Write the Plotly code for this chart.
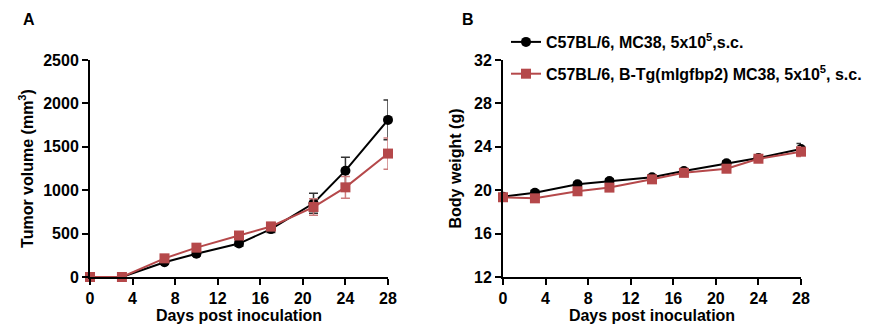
import plotly.graph_objects as go

days = [0, 3, 7, 10, 14, 17, 21, 24, 28]

# Tumor volume (mm^3)
vol_wt = [0, 0, 170, 268, 385, 552, 849, 1225, 1810]
vol_wt_err = [0, 0, 20, 25, 30, 40, 115, 155, 228]
vol_tg = [0, 0, 215, 338, 478, 582, 806, 1033, 1422]
vol_tg_err = [0, 0, 25, 30, 40, 45, 95, 125, 180]

# Body weight (g)
bw_wt = [19.40, 19.77, 20.54, 20.85, 21.20, 21.77, 22.48, 22.97, 23.80]
bw_wt_err = [0.2, 0.2, 0.2, 0.2, 0.2, 0.2, 0.2, 0.2, 0.5]
bw_tg = [19.35, 19.25, 19.90, 20.24, 21.00, 21.60, 21.98, 22.90, 23.55]
bw_tg_err = [0.2, 0.2, 0.25, 0.25, 0.25, 0.25, 0.25, 0.25, 0.45]

label_wt = "C57BL/6, MC38, 5x10<sup>5</sup>,s.c."
label_tg = "C57BL/6, B-Tg(mIgfbp2) MC38, 5x10<sup>5</sup>, s.c."

BLACK = "#000000"
BLACK_ERR = "#333333"
RED = "#b5484a"
RED_ERR = "#cc7c7d"
FONT = "Liberation Sans, Arial, sans-serif"

fig = go.Figure()


def add_series(x, y, err, color, err_color, symbol, name, group, xa, ya, show):
    fig.add_trace(go.Scatter(
        x=x, y=y, mode="lines+markers", name=name, showlegend=show, legendgroup=group,
        xaxis=xa, yaxis=ya, cliponaxis=False,
        line=dict(color=color, width=2),
        marker=dict(color=color, symbol=symbol, size=10, line=dict(width=0)),
        error_y=dict(type="data", array=err, color=err_color, thickness=1.5, width=4.5),
    ))


add_series(days, vol_wt, vol_wt_err, BLACK, BLACK_ERR, "circle", label_wt, "wt", "x", "y", False)
add_series(days, vol_tg, vol_tg_err, RED, RED_ERR, "square", label_tg, "tg", "x", "y", False)
add_series(days, bw_wt, bw_wt_err, BLACK, BLACK_ERR, "circle", label_wt, "wt", "x2", "y2", True)
add_series(days, bw_tg, bw_tg_err, RED, RED_ERR, "square", label_tg, "tg", "x2", "y2", True)

W, H = 883, 336
ydom = [1 - 277 / H, 1 - 60 / H]

axis_common = dict(
    showgrid=False, zeroline=False, showline=True, linecolor="black", linewidth=2,
    ticks="outside", ticklen=6, tickwidth=2, tickcolor="black", automargin=False,
    tickfont=dict(family=FONT, size=16, color="black", weight="bold"),
    title_font=dict(family=FONT, size=16, color="black", weight="bold"),
)

fig.update_layout(
    width=W, height=H, margin=dict(l=0, r=0, t=0, b=0, autoexpand=False),
    plot_bgcolor="white", paper_bgcolor="white",
    font=dict(family=FONT, color="black"),
    xaxis=dict(domain=[90 / W, 388 / W], range=[0, 28], tickvals=list(range(0, 29, 4)),
               title=dict(text="Days post inoculation", standoff=3), anchor="y", **axis_common),
    yaxis=dict(domain=ydom, range=[0, 2500], tickvals=list(range(0, 2501, 500)),
               title=dict(text="Tumor volume (mm<sup>3</sup>)", standoff=6), anchor="x", **axis_common),
    xaxis2=dict(domain=[503 / W, 801 / W], range=[0, 28], tickvals=list(range(0, 29, 4)),
                title=dict(text="Days post inoculation", standoff=3), anchor="y2", **axis_common),
    yaxis2=dict(domain=ydom, range=[12, 32], tickvals=list(range(12, 33, 4)),
                title=dict(text="Body weight (g)", standoff=8), anchor="x2", **axis_common),
    legend=dict(x=506 / W, y=1 - 25 / H, xanchor="left", yanchor="top",
                bgcolor="rgba(0,0,0,0)", tracegroupgap=8, itemwidth=30,
                font=dict(family=FONT, size=16, color="black", weight="bold")),
    annotations=[
        dict(text="A", x=21 / W, y=1 - 19 / H, xref="paper", yref="paper", showarrow=False,
             xanchor="left", yanchor="middle", font=dict(family=FONT, size=16, weight="bold")),
        dict(text="B", x=460 / W, y=1 - 19 / H, xref="paper", yref="paper", showarrow=False,
             xanchor="left", yanchor="middle", font=dict(family=FONT, size=16, weight="bold")),
    ],
)

fig.write_html("out.html")
